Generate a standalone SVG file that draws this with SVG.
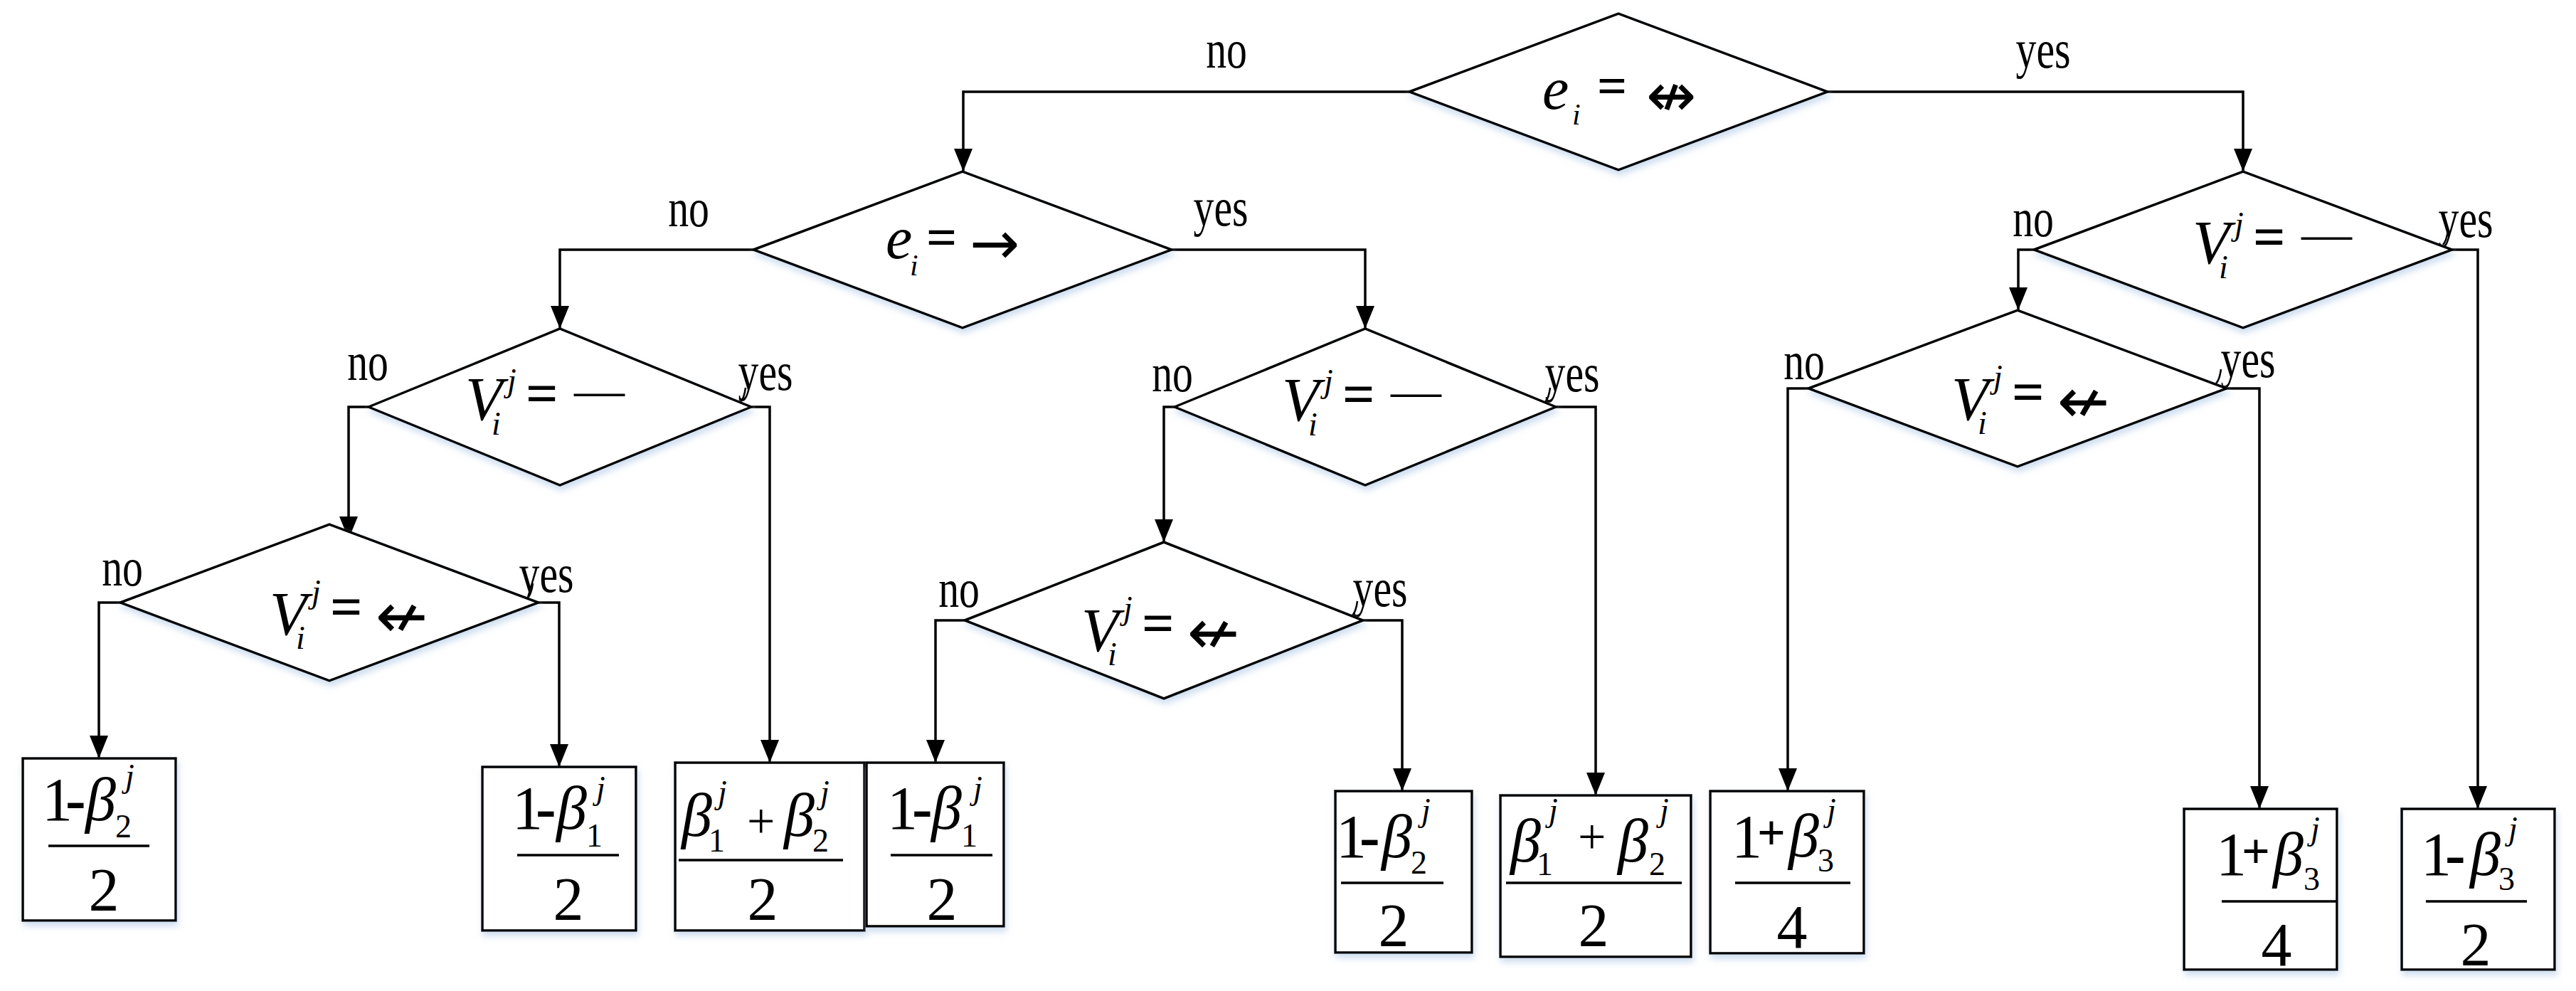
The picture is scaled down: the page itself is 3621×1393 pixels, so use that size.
<svg xmlns="http://www.w3.org/2000/svg" width="3621" height="1393" viewBox="0 0 3621 1393">
<defs>
<filter id="sh" x="-10%" y="-10%" width="120%" height="130%">
<feDropShadow dx="2" dy="6" stdDeviation="5" flood-color="#b9cfe8" flood-opacity="0.7"/>
</filter>
<marker id="ah" markerUnits="userSpaceOnUse" markerWidth="34" markerHeight="28" refX="32" refY="13" orient="auto">
<path d="M0,0 L32,13 L0,26 z" fill="#000"/>
</marker>
<style>
.shape{fill:#fff;stroke:#000;stroke-width:3.5;filter:url(#sh)}
.conn{fill:none;stroke:#000;stroke-width:3.5}
.arr{marker-end:url(#ah)}
.tick{fill:none;stroke:#000;stroke-width:2.5}
.bar{stroke:#000;stroke-width:3.5}
.lbl{font-family:"Liberation Serif","Times New Roman",serif;font-size:76px;fill:#000}
.m{font-family:"Liberation Serif","DejaVu Serif",serif;font-size:86px;fill:#000}
.it{font-style:italic}
.s{font-size:46px}
.bd{font-weight:bold}
.ar{font-family:"DejaVu Sans",sans-serif;font-size:88px}
</style>
</defs>
<rect width="3621" height="1393" fill="#fff"/>

<g id="connectors">
<path class="conn arr" d="M1981,129 H1354 V241"/>
<path class="conn arr" d="M2569,129 H3153 V241"/>
<path class="conn arr" d="M1059,351 H787 V462"/>
<path class="conn arr" d="M1647,351 H1919 V462"/>
<path class="conn arr" d="M2859,351 H2837 V436"/>
<path class="conn arr" d="M3447,351 H3483 V1137"/>
<path class="conn arr" d="M518,572 H490 V758"/>
<path class="conn arr" d="M1056,572 H1082 V1072"/>
<path class="conn arr" d="M1651,572 H1636 V762"/>
<path class="conn arr" d="M2187,572 H2243 V1118"/>
<path class="conn arr" d="M169,847 H139 V1066"/>
<path class="conn arr" d="M757,847 H786 V1078"/>
<path class="conn arr" d="M1356,872 H1315 V1072"/>
<path class="conn arr" d="M1916,872 H1971 V1112"/>
<path class="conn arr" d="M2542,546 H2513 V1112"/>
<path class="conn arr" d="M3130,546 H3176 V1137"/>
<path class="tick" d="M3441,324 Q3439,339 3434,344"/>
<path class="tick" d="M1048,545 Q1046,560 1041,565"/>
<path class="tick" d="M2179,545 Q2177,560 2172,565"/>
<path class="tick" d="M749,820 Q747,835 742,840"/>
<path class="tick" d="M1908,845 Q1906,860 1901,865"/>
<path class="tick" d="M3122,519 Q3120,534 3115,539"/>
<text class="lbl" text-anchor="middle" transform="translate(1724,95) scale(0.76,1)">no</text>
<text class="lbl" text-anchor="middle" transform="translate(2872,95) scale(0.76,1)">yes</text>
<text class="lbl" text-anchor="middle" transform="translate(968,318) scale(0.76,1)">no</text>
<text class="lbl" text-anchor="middle" transform="translate(1716,317) scale(0.76,1)">yes</text>
<text class="lbl" text-anchor="middle" transform="translate(2858,332) scale(0.76,1)">no</text>
<text class="lbl" text-anchor="middle" transform="translate(3466,333) scale(0.76,1)">yes</text>
<text class="lbl" text-anchor="middle" transform="translate(517,534) scale(0.76,1)">no</text>
<text class="lbl" text-anchor="middle" transform="translate(1076,548) scale(0.76,1)">yes</text>
<text class="lbl" text-anchor="middle" transform="translate(1648,550) scale(0.76,1)">no</text>
<text class="lbl" text-anchor="middle" transform="translate(2210,550) scale(0.76,1)">yes</text>
<text class="lbl" text-anchor="middle" transform="translate(172,823) scale(0.76,1)">no</text>
<text class="lbl" text-anchor="middle" transform="translate(768,832) scale(0.76,1)">yes</text>
<text class="lbl" text-anchor="middle" transform="translate(1348,853) scale(0.76,1)">no</text>
<text class="lbl" text-anchor="middle" transform="translate(1940,852) scale(0.76,1)">yes</text>
<text class="lbl" text-anchor="middle" transform="translate(2536,533) scale(0.76,1)">no</text>
<text class="lbl" text-anchor="middle" transform="translate(3160,530) scale(0.76,1)">yes</text>
</g>

<g id="d0">
<polygon class="shape" points="1981,129 2275,19 2569,129 2275,239"/>
<text class="m"><tspan class="it" x="2168" y="153" style="font-size:84px">e</tspan><tspan class="it s" x="2210" y="175" style="font-size:42px">i</tspan><tspan class="bd" x="2245" y="146" style="font-size:74px">=</tspan><tspan class="ar" x="2314" y="163" style="font-size:84px">↮</tspan></text>
</g>
<g id="d1">
<polygon class="shape" points="1059,351 1353,241 1647,351 1353,461"/>
<text class="m"><tspan class="it" x="1245" y="363" style="font-size:84px">e</tspan><tspan class="it s" x="1279" y="387" style="font-size:42px">i</tspan><tspan class="bd" x="1302" y="359" style="font-size:76px">=</tspan><tspan class="ar" x="1363" y="371" style="font-size:84px">→</tspan></text>
</g>
<g id="d2">
<polygon class="shape" points="2859,351 3153,241 3447,351 3153,461"/>
<text class="m"><tspan class="it" x="3082" y="370">V</tspan><tspan class="it s" x="3119" y="391">i</tspan><tspan class="it s" x="3141" y="330">j</tspan><tspan class="bd" x="3167" y="360" style="font-size:80px">=</tspan><tspan x="3235" y="352" style="font-size:71px">—</tspan></text>
</g>
<g id="d3">
<polygon class="shape" points="518,572 787,462 1056,572 787,682"/>
<text class="m"><tspan class="it" x="654" y="590">V</tspan><tspan class="it s" x="691" y="611">i</tspan><tspan class="it s" x="713" y="550">j</tspan><tspan class="bd" x="739" y="580" style="font-size:80px">=</tspan><tspan x="807" y="572" style="font-size:71px">—</tspan></text>
</g>
<g id="d4">
<polygon class="shape" points="1651,572 1919,462 2187,572 1919,682"/>
<text class="m"><tspan class="it" x="1802" y="591">V</tspan><tspan class="it s" x="1839" y="612">i</tspan><tspan class="it s" x="1861" y="551">j</tspan><tspan class="bd" x="1887" y="581" style="font-size:80px">=</tspan><tspan x="1955" y="573" style="font-size:71px">—</tspan></text>
</g>
<g id="d5">
<polygon class="shape" points="169,847 463,737 757,847 463,957"/>
<text class="m"><tspan class="it" x="379" y="892">V</tspan><tspan class="it s" x="416" y="912">i</tspan><tspan class="it s" x="438" y="847">j</tspan><tspan class="bd" x="464" y="880" style="font-size:80px">=</tspan><tspan class="ar" x="528" y="896">↚</tspan></text>
</g>
<g id="d6">
<polygon class="shape" points="1356,872 1636,762 1916,872 1636,982"/>
<text class="m"><tspan class="it" x="1520" y="915">V</tspan><tspan class="it s" x="1557" y="935">i</tspan><tspan class="it s" x="1579" y="870">j</tspan><tspan class="bd" x="1605" y="903" style="font-size:80px">=</tspan><tspan class="ar" x="1669" y="919">↚</tspan></text>
</g>
<g id="d8">
<polygon class="shape" points="2542,546 2836,436 3130,546 2836,656"/>
<text class="m"><tspan class="it" x="2743" y="590">V</tspan><tspan class="it s" x="2780" y="610">i</tspan><tspan class="it s" x="2802" y="545">j</tspan><tspan class="bd" x="2828" y="578" style="font-size:80px">=</tspan><tspan class="ar" x="2892" y="594">↚</tspan></text>
</g>

<g id="b1">
<rect class="shape" x="32" y="1066" width="215" height="228"/>
<text class="m"><tspan x="59" y="1153">1</tspan><tspan class="bd" x="92" y="1153">-</tspan><tspan class="it" x="120" y="1153">β</tspan><tspan class="s" x="162" y="1177">2</tspan><tspan class="it s" x="176" y="1106">j</tspan></text>
<line class="bar" x1="68" y1="1189" x2="210" y2="1189"/>
<text class="m" x="146" y="1280" text-anchor="middle">2</text>
</g>
<g id="b2">
<rect class="shape" x="678" y="1078" width="216" height="230"/>
<text class="m"><tspan x="720" y="1165">1</tspan><tspan class="bd" x="753" y="1165">-</tspan><tspan class="it" x="782" y="1165">β</tspan><tspan class="s" x="824" y="1190">1</tspan><tspan class="it s" x="838" y="1123">j</tspan></text>
<line class="bar" x1="727" y1="1202" x2="870" y2="1202"/>
<text class="m" x="799" y="1293" text-anchor="middle">2</text>
</g>
<g id="b3">
<rect class="shape" x="949" y="1072" width="266" height="236"/>
<text class="m"><tspan class="it" x="958" y="1175">β</tspan><tspan class="s" x="996" y="1197">1</tspan><tspan class="it s" x="1009" y="1129">j</tspan><tspan x="1050" y="1178" style="font-size:70px">+</tspan><tspan class="it" x="1102" y="1175">β</tspan><tspan class="s" x="1142" y="1197">2</tspan><tspan class="it s" x="1153" y="1129">j</tspan></text>
<line class="bar" x1="954" y1="1209" x2="1185" y2="1209"/>
<text class="m" x="1072" y="1293" text-anchor="middle">2</text>
</g>
<g id="b4">
<rect class="shape" x="1218" y="1072" width="193" height="230"/>
<text class="m"><tspan x="1247" y="1165">1</tspan><tspan class="bd" x="1282" y="1165">-</tspan><tspan class="it" x="1309" y="1165">β</tspan><tspan class="s" x="1351" y="1190">1</tspan><tspan class="it s" x="1368" y="1123">j</tspan></text>
<line class="bar" x1="1252" y1="1202" x2="1395" y2="1202"/>
<text class="m" x="1324" y="1293" text-anchor="middle">2</text>
</g>
<g id="b6">
<rect class="shape" x="1877" y="1112" width="192" height="227"/>
<text class="m"><tspan x="1878" y="1205">1</tspan><tspan class="bd" x="1911" y="1205">-</tspan><tspan class="it" x="1942" y="1205">β</tspan><tspan class="s" x="1983" y="1228">2</tspan><tspan class="it s" x="1998" y="1154">j</tspan></text>
<line class="bar" x1="1885" y1="1241" x2="2029" y2="1241"/>
<text class="m" x="1959" y="1330" text-anchor="middle">2</text>
</g>
<g id="b7">
<rect class="shape" x="2109" y="1118" width="268" height="227"/>
<text class="m"><tspan class="it" x="2123" y="1211">β</tspan><tspan class="s" x="2160" y="1230">1</tspan><tspan class="it s" x="2177" y="1154">j</tspan><tspan x="2218" y="1200" style="font-size:70px">+</tspan><tspan class="it" x="2274" y="1211">β</tspan><tspan class="s" x="2318" y="1230">2</tspan><tspan class="it s" x="2333" y="1154">j</tspan></text>
<line class="bar" x1="2117" y1="1241" x2="2364" y2="1241"/>
<text class="m" x="2240" y="1330" text-anchor="middle">2</text>
</g>
<g id="b8">
<rect class="shape" x="2404" y="1112" width="216" height="228"/>
<text class="m"><tspan x="2434" y="1205">1</tspan><tspan class="bd" x="2470" y="1194" style="font-size:70px">+</tspan><tspan class="it" x="2514" y="1204">β</tspan><tspan class="s" x="2555" y="1225">3</tspan><tspan class="it s" x="2568" y="1154">j</tspan></text>
<line class="bar" x1="2439" y1="1241" x2="2601" y2="1241"/>
<text class="m" x="2519" y="1332" text-anchor="middle">4</text>
</g>
<g id="b9">
<rect class="shape" x="3070" y="1137" width="215" height="226"/>
<text class="m"><tspan x="3115" y="1230">1</tspan><tspan class="bd" x="3151" y="1220" style="font-size:70px">+</tspan><tspan class="it" x="3195" y="1230">β</tspan><tspan class="s" x="3238" y="1251">3</tspan><tspan class="it s" x="3248" y="1180">j</tspan></text>
<line class="bar" x1="3123" y1="1267" x2="3285" y2="1267"/>
<text class="m" x="3200" y="1357" text-anchor="middle">4</text>
</g>
<g id="b10">
<rect class="shape" x="3376" y="1137" width="215" height="226"/>
<text class="m"><tspan x="3403" y="1230">1</tspan><tspan class="bd" x="3437" y="1230">-</tspan><tspan class="it" x="3472" y="1230">β</tspan><tspan class="s" x="3512" y="1251">3</tspan><tspan class="it s" x="3526" y="1180">j</tspan></text>
<line class="bar" x1="3410" y1="1267" x2="3552" y2="1267"/>
<text class="m" x="3480" y="1357" text-anchor="middle">2</text>
</g>
</svg>
